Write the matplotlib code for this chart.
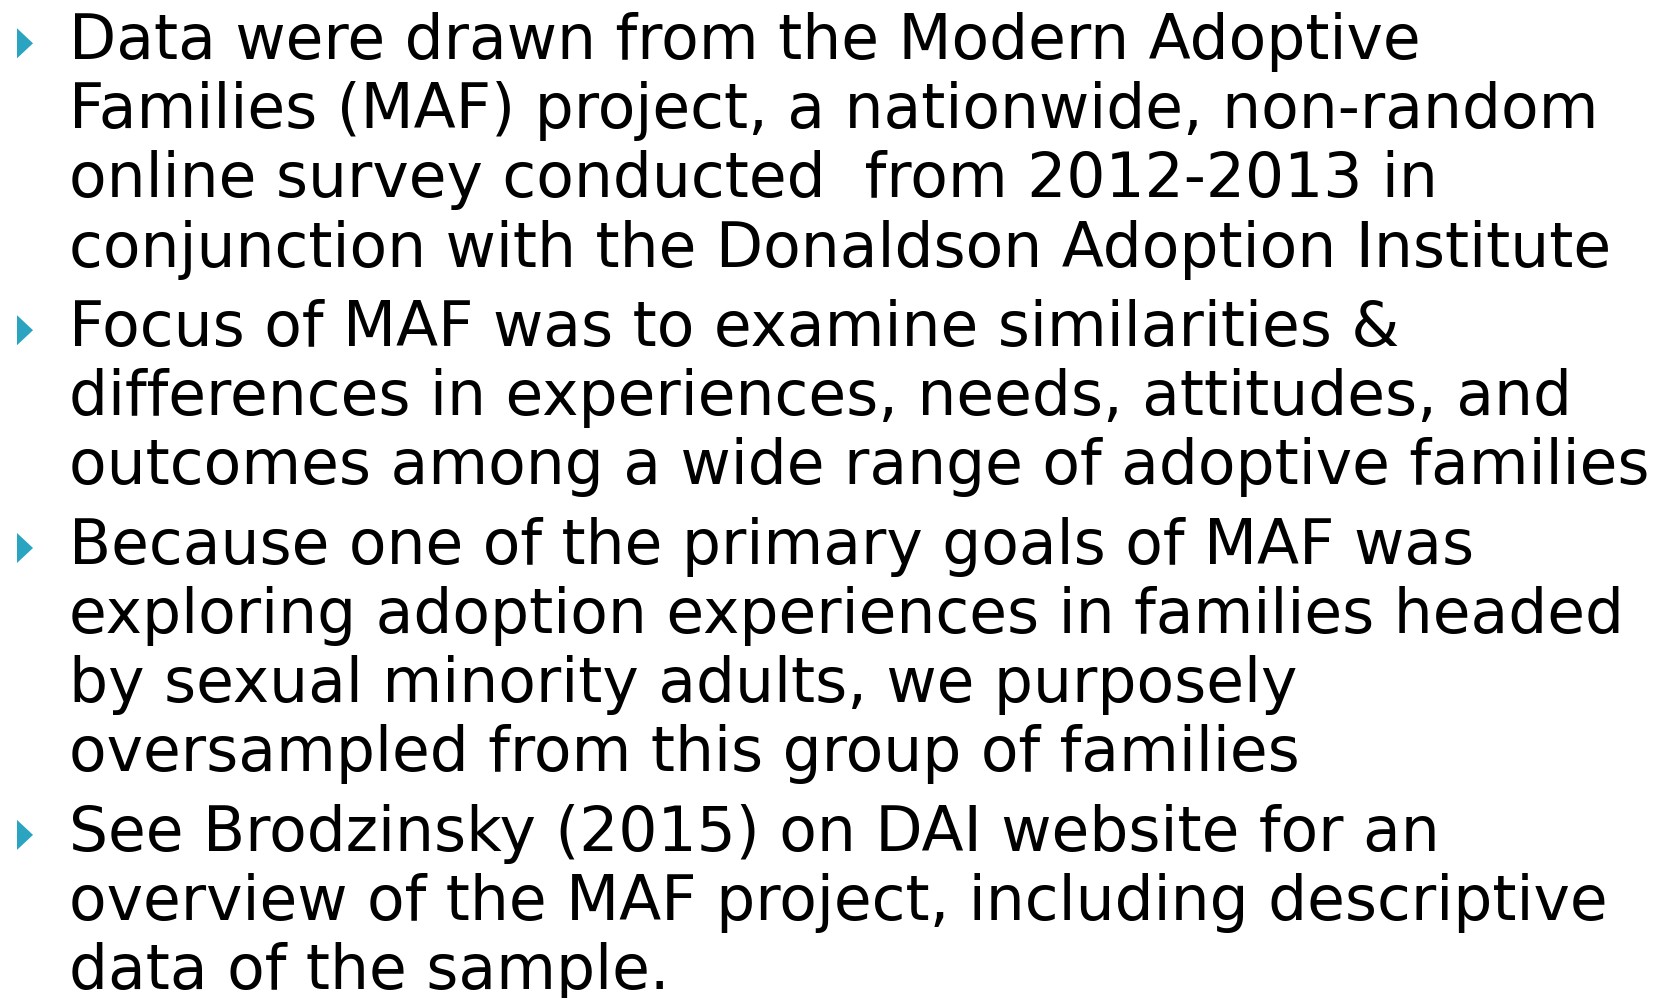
import matplotlib
matplotlib.use("Agg")
import matplotlib.pyplot as plt
from matplotlib.patches import Polygon

# slide content, one list of wrapped lines per bullet
bullets = [
    ["Data were drawn from the Modern Adoptive",
     "Families (MAF) project, a nationwide, non-random",
     "online survey conducted  from 2012-2013 in",
     "conjunction with the Donaldson Adoption Institute"],
    ["Focus of MAF was to examine similarities &",
     "differences in experiences, needs, attitudes, and",
     "outcomes among a wide range of adoptive families"],
    ["Because one of the primary goals of MAF was",
     "exploring adoption experiences in families headed",
     "by sexual minority adults, we purposely",
     "oversampled from this group of families"],
    ["See Brodzinsky (2015) on DAI website for an",
     "overview of the MAF project, including descriptive",
     "data of the sample."],
]

bullet_color = "#2AA4C1"
W, H = 1673, 998

fig = plt.figure(figsize=(W / 100, H / 100), dpi=100)
ax = fig.add_axes([0, 0, 1, 1])
ax.set_xlim(0, W)
ax.set_ylim(H, 0)
ax.axis("off")

first_base = 59.3   # baseline of first line (px)
line_step = 69.1    # line spacing
para_gap = 10.5     # extra space before each new bullet
text_x = 69
font_size = 44.3

y = first_base
for b, lines in enumerate(bullets):
    if b > 0:
        y += para_gap
    # triangle bullet next to the first line
    tri = Polygon([(17, y - 31), (17, y - 1), (33, y - 16)],
                  closed=True, facecolor=bullet_color, edgecolor="none")
    ax.add_patch(tri)
    for ln in lines:
        ax.text(text_x, y, ln, fontsize=font_size, family="DejaVu Sans",
                color="black", va="baseline", ha="left")
        y += line_step

fig.savefig("out.png", dpi=100)
